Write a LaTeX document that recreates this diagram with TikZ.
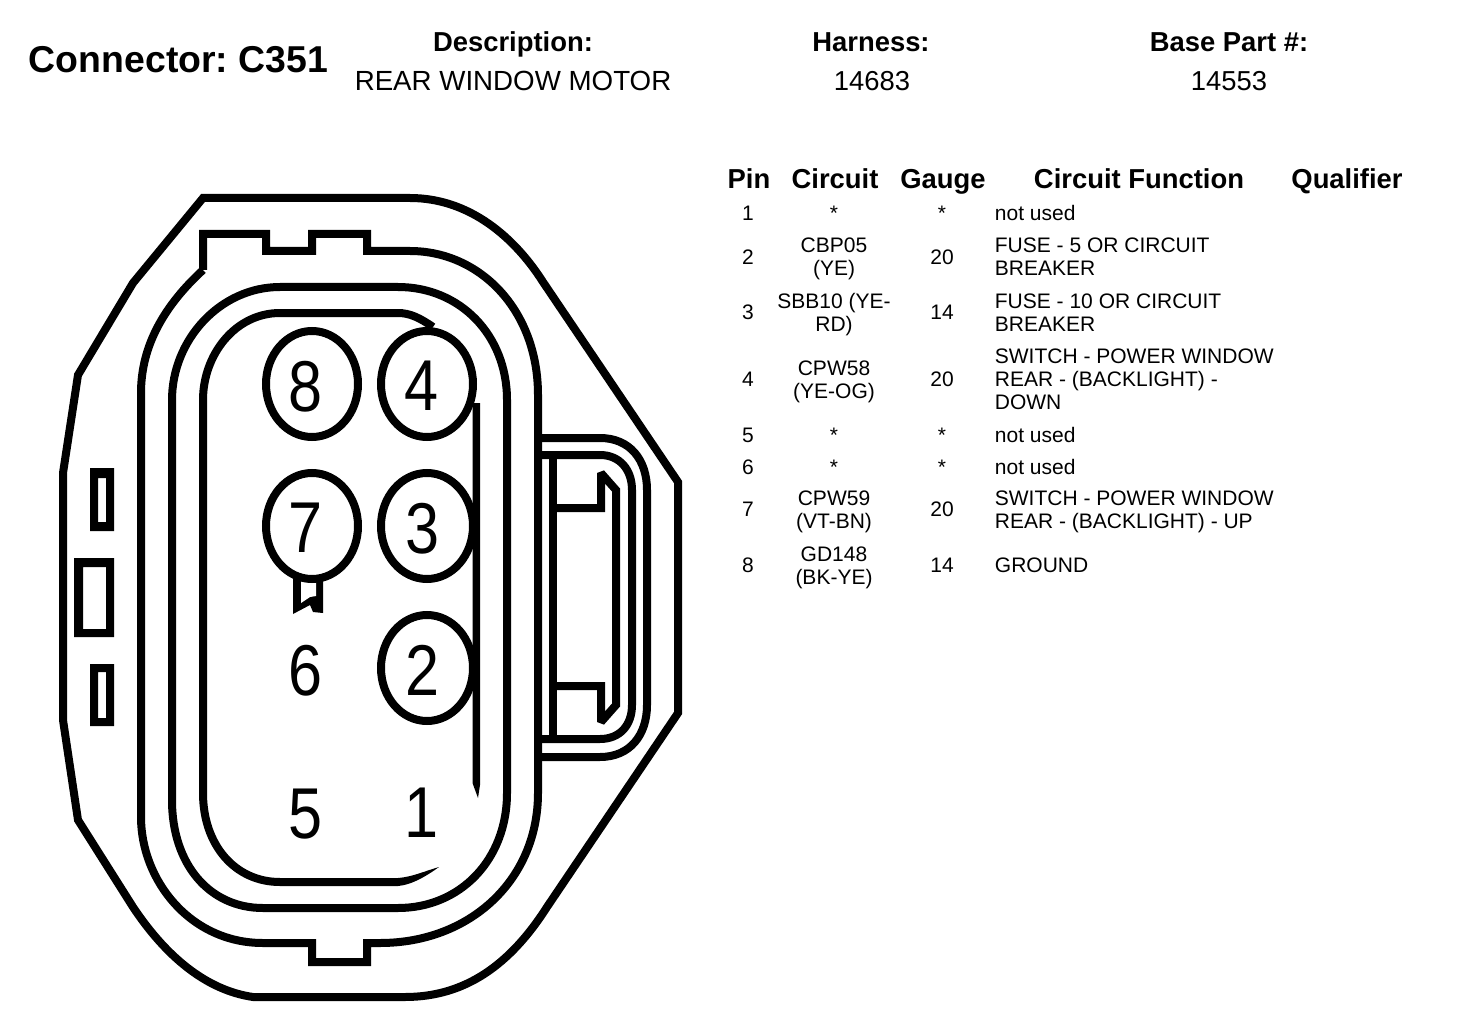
\documentclass[tikz,border=0pt]{standalone}
\usepackage{fontspec}
\setmainfont{Liberation Sans}
\newfontfamily\digitfont[FakeStretch=0.85]{Liberation Sans}
\frenchspacing
\newcommand{\st}{\rule[-2.3pt]{0pt}{11.5pt}}
\tikzset{
  x=.5pt,y=-.5pt,
  outline/.style={draw=black,line width=4pt,line join=miter,miter limit=3},
  ring/.style={draw=black,line width=4pt,fill=white},
  solid ink/.style={fill=black,draw=none},
  title/.style={font=\bfseries\fontsize{18.7}{22}\selectfont,inner sep=0pt,text height=13.4pt,text depth=0pt},
  head/.style={font=\bfseries\fontsize{13.7}{16}\selectfont,inner sep=0pt,text height=9.8pt,text depth=0pt},
  sub/.style={font=\fontsize{13.7}{16}\selectfont,inner sep=0pt,text height=9.8pt,text depth=0pt},
  digit/.style={font=\digitfont\fontsize{36}{40}\selectfont,inner sep=0pt,text height=25.8pt,text depth=0pt},
  cell/.style={font=\fontsize{10.5}{11.5}\selectfont,inner sep=0pt,align=center,yshift=-.3pt},
  func/.style={font=\fontsize{10.5}{11.5}\selectfont,inner sep=0pt,align=left,anchor=west,yshift=-.3pt},
}
\begin{document}
\begin{tikzpicture}
\useasboundingbox (0,0) rectangle (1472,1016);
% outer shell
\draw[outline] (203,198) -- (410,198) .. controls (470,198) and (515,238) .. (543,282)
  -- (678,482) -- (678,713) -- (547,907) .. controls (510,965) and (465,997) .. (405,997)
  -- (253,997) .. controls (205,990) and (165,955) .. (133,907) -- (78,820) -- (63,720)
  -- (63,473) -- (78,375) -- (133,283) -- cycle;
% notched ring
\draw[outline] (203,270) -- (203,234) -- (266,234) -- (266,251) -- (312,251) -- (312,234)
  -- (367,234) -- (367,251) -- (410,251) .. controls (480,251) and (538,310) .. (538,395)
  -- (538,793) .. controls (538,880) and (470,943) .. (380,943) -- (367,943) -- (367,962)
  -- (312,962) -- (312,943) -- (263,943) .. controls (190,943) and (141,880) .. (141,817)
  -- (141,393) .. controls (141,345) and (165,305) .. (203,270);
% middle ring
\draw[outline] (280,287) -- (398,287) .. controls (460,287) and (507,335) .. (507,400)
  -- (507,793) .. controls (507,860) and (460,908) .. (398,908) -- (263,908)
  .. controls (210,908) and (172,865) .. (172,800) -- (172,400)
  .. controls (172,340) and (220,287) .. (280,287) -- cycle;
% inner ring
\draw[outline] (433,327) .. controls (420,318) and (410,313) .. (398,313) -- (280,313)
  .. controls (235,313) and (203,355) .. (203,400) -- (203,793)
  .. controls (203,845) and (235,882) .. (280,882) -- (398,882);
\fill[solid ink] (398,878) .. controls (412,877) and (425,871) .. (439,867)
  .. controls (428,875) and (412,885) .. (398,886) -- cycle;
% side tab
\draw[outline] (538,438) -- (600,438) .. controls (630,438) and (647,460) .. (647,490)
  -- (647,705) .. controls (647,735) and (630,757) .. (600,757) -- (538,757);
\draw[outline] (538,455) -- (600,455) .. controls (620,455) and (632,470) .. (632,490)
  -- (632,705) .. controls (632,725) and (620,739) .. (600,739) -- (538,739);
\draw[outline] (553,459) -- (553,735);
\draw[outline,miter limit=1.5] (553,508) -- (601,508) -- (601,473) -- (616,490) -- (616,705) -- (601,722)
  -- (601,686) -- (553,686);
% latches
\fill[solid ink,even odd rule] (90,468) rectangle (114,531) (98,478) rectangle (106,522);
\fill[solid ink,even odd rule] (74,558) rectangle (114,637) (83,567) rectangle (106,629);
\fill[solid ink,even odd rule] (90,664) rectangle (114,726) (98,672) rectangle (106,718);
% key under pin 7
\fill[solid ink] (293,575) -- (323,575) -- (323,613) -- (313,612) -- (310,605) -- (293,614) -- cycle;
\fill[white] (301,575) -- (316,575) -- (316,596) -- (310,597) -- (301,603) -- cycle;
% pin cavities
\draw[ring] (312,384) ellipse [x radius=46,y radius=53];
\draw[ring] (427,384) ellipse [x radius=46,y radius=53];
\draw[ring] (312,526) ellipse [x radius=46,y radius=53];
\draw[ring] (427,526) ellipse [x radius=46,y radius=53];
\draw[ring] (427,668) ellipse [x radius=46,y radius=53];
% right wall of the inner ring
\fill[solid ink] (472.5,403) -- (480,403) -- (480,785) -- (478,798) -- (472.5,783) -- cycle;
% cavity numbers
\node[digit] (d8) at (306,386) {8};
\node[digit] (d4) at (422,385) {4};
\node[digit] (d7) at (306,527) {7};
\node[digit] (d3) at (423,528) {3};
\node[digit] (d6) at (306,670) {6};
\node[digit] (d2) at (423,670) {2};
\node[digit] (d5) at (306,813) {5};
\node[digit] (d1) at (422,812) {1};
% page header
\node[title] (conn) at (178.5,59) {Connector: C351};
\node[head] (desc) at (513,42) {Description:};
\node[sub,font=\fontsize{13.85}{16}\selectfont] (descv) at (513,81) {REAR WINDOW MOTOR};
\node[head] (harn) at (871,42) {Harness:};
\node[sub] (harnv) at (872,81) {14683};
\node[head] (base) at (1229,42) {Base Part \#:};
\node[sub] (basev) at (1229,81) {14553};
% table header
\node[head] (hpin) at (749,179) {Pin};
\node[head] (hcirc) at (835,179) {Circuit};
\node[head] (hgauge) at (943,179) {Gauge};
\node[head] (hfunc) at (1139,179) {Circuit Function};
\node[head] (hqual) at (1347,179) {Qualifier};
% pin column
\node[cell] (p1) at (748,213) {\st 1};
\node[cell] (p2) at (748,257) {\st 2};
\node[cell] (p3) at (748,312) {\st 3};
\node[cell] (p4) at (748,379) {\st 4};
\node[cell] (p5) at (748,435) {\st 5};
\node[cell] (p6) at (748,467) {\st 6};
\node[cell] (p7) at (748,509) {\st 7};
\node[cell] (p8) at (748,565) {\st 8};
% circuit column
\node[cell] (c1) at (834,213) {\st *};
\node[cell] (c2) at (834,257) {\st CBP05\\\st (YE)};
\node[cell] (c3) at (834,312) {\st SBB10 (YE-\\\st RD)};
\node[cell] (c4) at (834,379) {\st CPW58\\\st (YE-OG)};
\node[cell] (c5) at (834,435) {\st *};
\node[cell] (c6) at (834,467) {\st *};
\node[cell] (c7) at (834,509) {\st CPW59\\\st (VT-BN)};
\node[cell] (c8) at (834,565) {\st GD148\\\st (BK-YE)};
% gauge column
\node[cell] (g1) at (942,213) {\st *};
\node[cell] (g2) at (942,257) {\st 20};
\node[cell] (g3) at (942,312) {\st 14};
\node[cell] (g4) at (942,379) {\st 20};
\node[cell] (g5) at (942,435) {\st *};
\node[cell] (g6) at (942,467) {\st *};
\node[cell] (g7) at (942,509) {\st 20};
\node[cell] (g8) at (942,565) {\st 14};
% function column
\node[func] (f1) at (994.5,213) {\st not used};
\node[func] (f2) at (994.5,257) {\st FUSE - 5 OR CIRCUIT\\\st BREAKER};
\node[func] (f3) at (994.5,312) {\st FUSE - 10 OR CIRCUIT\\\st BREAKER};
\node[func] (f4) at (994.5,379) {\st SWITCH - POWER WINDOW\\\st REAR - (BACKLIGHT) -\\\st DOWN};
\node[func] (f5) at (994.5,435) {\st not used};
\node[func] (f6) at (994.5,467) {\st not used};
\node[func] (f7) at (994.5,509) {\st SWITCH - POWER WINDOW\\\st REAR - (BACKLIGHT) - UP};
\node[func] (f8) at (994.5,565) {\st GROUND};
\end{tikzpicture}
\end{document}
